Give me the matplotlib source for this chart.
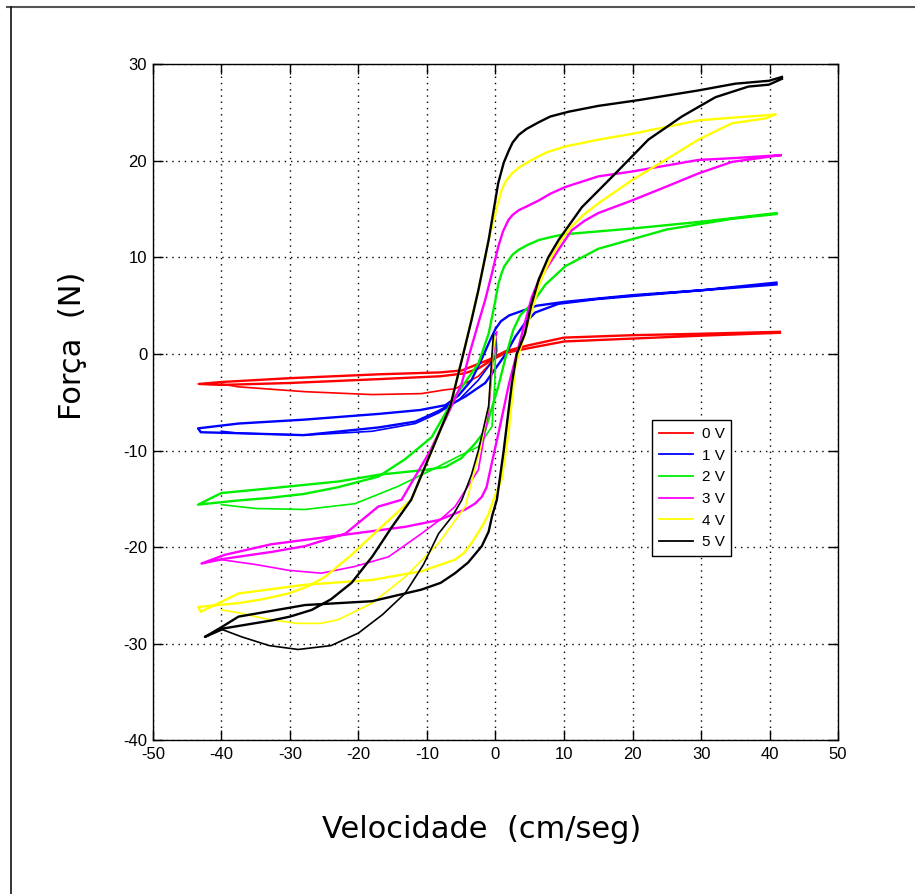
import matplotlib.pyplot as plt
from matplotlib.lines import Line2D

plt.rcParams['axes.unicode_minus'] = False

# curvas forca x velocidade, tensoes 0..5 V
labels = ['0 V', '1 V', '2 V', '3 V', '4 V', '5 V']
colors = ['#ff0000', '#0000ff', '#00ee00', '#ff00ff', '#ffff00', '#000000']

# laco principal (ida para a esquerda pelo ramo de cima, volta pelo de baixo)
x0 = [41.5, 30, 20, 10, 4.8, 1.5, -1, -4.9, -8, -17, -30, -40, -43.3,
      -40, -30, -17, -8, -4.5, -2.5, -0.5, 1.4, 4.8, 10, 20, 30, 41.5]
y0 = [2.3, 2.1, 1.95, 1.7, 0.9, 0.3, -0.6, -1.7, -1.9, -2.1, -2.5, -2.9, -3.1,
      -3.2, -3.0, -2.6, -2.3, -2.0, -1.5, -0.6, 0.1, 0.6, 1.3, 1.6, 1.9, 2.2]
x1 = [41, 30, 20, 10, 6, 4, 2, 0.8, 0, -0.8, -2, -3.5, -5.4, -7.3, -11, -17, -28, -37.5, -43.4,
      -43, -37.5, -28, -17, -11.7, -8.3, -4.4, -1.5, 0, 1.5, 2.9, 4.3, 5.8, 9.2, 15, 20, 30, 41]
y1 = [7.4, 6.6, 6.1, 5.4, 5.0, 4.5, 4.0, 3.4, 2.6, 1.4, -0.5, -2.7, -4.3, -5.3, -5.8, -6.2, -6.8, -7.2, -7.7,
      -8.1, -8.2, -8.4, -7.6, -7.0, -5.9, -4.4, -3.0, -1.5, 0, 1.8, 3.2, 4.3, 5.2, 5.7, 6.0, 6.6, 7.2]
x2 = [41, 30, 20, 10, 8, 6.3, 4.7, 3.4, 2.5, 1.9, 1.3, 0.9, 0.4, 0, -1, -2.5, -5.9, -9.3, -13.2, -17.1, -23, -28, -33, -38, -43.4,
      -40, -32.7, -22.9, -17, -10.2, -7.3, -5, -3, -1.5, 0.4, 1.6, 2.6, 3.6, 5.3, 7.3, 10.2, 15, 20, 25, 34.5, 41]
y2 = [14.6, 13.7, 13.0, 12.4, 12.1, 11.8, 11.3, 10.8, 10.3, 9.7, 9.1, 8.4, 7.2, 5.6, 2.1, -1.0, -4.4, -8.6, -10.9, -12.7, -13.8, -14.5, -14.9, -15.2, -15.6,
      -14.4, -13.9, -13.2, -12.5, -12.0, -11.7, -10.8, -9.3, -7.9, -3.4, 0, 2.5, 4.0, 5.2, 7.2, 9.1, 10.9, 11.9, 12.9, 14.0, 14.5]
x3 = [41.6, 35, 29.6, 19.9, 15, 10.2, 8, 6.3, 4.6, 3.4, 2.5, 1.9, 1.1, 0.4, -0.5, -1.5, -2.5, -3.8, -4.9, -6.8, -9.5, -13.7, -17.1, -21.9, -27.8, -32.7, -39.5, -42.9,
      -39.5, -32.7, -22.9, -13.2, -8.3, -4.4, -3, -2, -1.3, -0.6, 0.5, 2, 3.1, 4.2, 5.3, 6.2, 7.3, 9.2, 11.1, 13, 15, 19.9, 24.8, 29.6, 34.5, 41.6]
y3 = [20.6, 20.3, 20.1, 18.9, 18.4, 17.3, 16.6, 15.9, 15.3, 14.9, 14.4, 13.9, 12.7, 11.1, 8.4, 5.6, 3.2, 0, -3.0, -6.0, -10.0, -15.1, -15.8, -18.6, -19.9, -20.5, -21.2, -21.7,
      -20.8, -19.7, -18.8, -17.9, -17.2, -16.1, -15.5, -14.8, -13.8, -11.5, -8.0, -3.0, 0, 3.0, 5.9, 7.4, 8.7, 10.8, 12.8, 13.8, 14.6, 15.9, 17.3, 18.7, 19.9, 20.6]
x4 = [40.8, 35, 29.6, 24.8, 19.9, 15, 10.2, 7.5, 5.3, 3.6, 2.4, 1.5, 0.9, 0.2, -1, -2.5, -3.7, -4.7, -6.6, -9.3, -12.3, -17.1, -21, -24.9, -27.5, -30.2, -34, -37.5, -43.4,
      -43, -37.5, -27.8, -18, -10.8, -5.9, -4.6, -3.5, -2, -1, -0.3, 0.9, 1.9, 2.9, 3.6, 4.3, 5.3, 6.3, 7.2, 8.2, 9.6, 11.1, 13, 15, 19.9, 24.8, 29.6, 34.5, 39.4, 40.8]
y4 = [24.8, 24.5, 24.2, 23.5, 22.8, 22.2, 21.5, 20.9, 20.1, 19.4, 18.7, 17.9, 17.0, 15.2, 11.8, 6.6, 3.0, 0, -5.4, -10.0, -15.1, -18.2, -20.8, -23.1, -24.1, -24.8, -25.4, -25.8, -26.2,
      -26.7, -24.8, -23.9, -23.4, -22.5, -21.3, -20.6, -19.6, -17.9, -16.6, -15.1, -13.0, -8.2, -1.3, 0.5, 2.1, 4.5, 7.0, 8.6, 10.1, 11.8, 13.2, 14.5, 15.6, 18.0, 20.1, 22.2, 23.9, 24.4, 24.8]
x5 = [41.8, 39.9, 35, 29.6, 20.9, 15, 10.7, 8, 6.3, 4.5, 3.4, 2.5, 1.9, 1.2, 0.4, -1, -2.5, -3.5, -4.7, -6.6, -9.3, -12.3, -15.1, -18, -21, -24, -26.8, -30, -32.7, -39.5, -42.4,
      -40, -37.5, -27.8, -18, -10.8, -8, -5.9, -4, -2, -1, -0.5, 0.2, 1.2, 2.4, 3.1, 4.3, 5.2, 6.3, 7.7, 9.2, 12.6, 17.5, 22.3, 27.2, 32.1, 36.9, 39.9, 41.8]
y5 = [28.7, 28.3, 28.0, 27.3, 26.3, 25.7, 25.1, 24.6, 24.0, 23.3, 22.7, 21.9, 21.0, 19.8, 17.7, 11.8, 6.6, 3.5, 0, -5.4, -10.0, -15.1, -17.9, -21.0, -23.7, -25.4, -26.5, -27.2, -27.6, -28.4, -29.3,
      -28.3, -27.2, -26.0, -25.6, -24.4, -23.7, -22.7, -21.6, -19.9, -18.4, -16.8, -15.1, -10.0, -3.0, 0, 2.1, 5.0, 7.7, 10.0, 11.8, 15.2, 18.7, 22.2, 24.6, 26.6, 27.7, 27.9, 28.5]

# laco transitorio (por baixo, terminando no pico perto da origem)
lx0 = [-40, -37.5, -27.8, -18, -10.8, -7.3, -5.9, -2.5, -0.5, 0, 0.2, 0.1]
ly0 = [-3.1, -3.4, -3.9, -4.2, -4.1, -3.7, -3.6, -2.3, -0.8, -0.3, 0.4, 1.5]
lx1 = [-40, -37.5, -27.8, -18, -11.7, -8.3, -5.4, -2.5, 0, 0.1, 0]
ly1 = [-8.0, -8.2, -8.4, -8.0, -7.2, -6.1, -4.8, -2.7, -0.3, 1.0, 2.0]
lx2 = [-40, -35, -27.8, -20.5, -14.2, -9.3, -5.4, -2.5, -0.5, -0.1, 0, 0]
ly2 = [-15.6, -16.0, -16.1, -15.5, -13.7, -12.0, -10.6, -9.6, -7.5, -3.0, 0.4, 2.0]
lx3 = [-40, -35, -30.2, -25.4, -20.5, -15.6, -10.8, -7.8, -5.9, -2.5, -1, -0.3, 0.2]
ly3 = [-21.3, -21.8, -22.4, -22.7, -22.0, -21.0, -18.6, -17.0, -15.8, -12.0, -6.0, 0, 2.3]
lx4 = [-40, -37.5, -33, -28.8, -25.5, -22.9, -18, -13.2, -8.3, -4.4, -2.3, -1, -0.4, 0]
ly4 = [-26.5, -26.8, -27.5, -27.9, -27.9, -27.5, -25.8, -23.1, -19.6, -15.8, -10.0, -5.4, 0, 1.8]
lx5 = [-40, -37, -33, -28.8, -24, -20, -16.5, -13.2, -10.5, -8.3, -6.3, -4.9, -3.5, -2.5, -1, -0.5, -0.3]
ly5 = [-28.5, -29.3, -30.2, -30.6, -30.2, -28.9, -27.0, -24.8, -21.8, -18.6, -16.8, -15.1, -12.5, -10.0, -5.4, 0, 2.0]

loops = [(x0, y0, lx0, ly0), (x1, y1, lx1, ly1), (x2, y2, lx2, ly2),
         (x3, y3, lx3, ly3), (x4, y4, lx4, ly4), (x5, y5, lx5, ly5)]

narrow = ['Liberation Sans Narrow', 'Liberation Sans', 'DejaVu Sans']

fig = plt.figure(figsize=(9.15, 8.94), dpi=100)
ax = fig.add_axes([0.167, 0.172, 0.749, 0.756])

for (x, y, lx, ly), c, lab in zip(loops, colors, labels):
    ax.plot(x, y, color=c, lw=1.7, label=lab)
    ax.plot(lx, ly, color=c, lw=1.2)

ax.set_xlim(-50, 50)
ax.set_ylim(-40, 30)
ax.set_xticks(range(-50, 51, 10))
ax.set_yticks(range(-40, 31, 10))
ax.grid(True, color='black', linestyle=(0, (1, 3.5)), linewidth=1.0)
ax.tick_params(direction='in', length=7, width=1, top=True, right=True,
               labelsize=12)
ax.tick_params(axis='x', pad=5)
ax.tick_params(axis='y', pad=4)
for t in ax.get_xticklabels() + ax.get_yticklabels():
    t.set_family(narrow)
for s in ax.spines.values():
    s.set_linewidth(1.0)

ax.set_xlabel('Velocidade  (cm/seg)', fontsize=22, family='DejaVu Sans')
ax.xaxis.set_label_coords(0.480, -0.110)
ax.set_ylabel('Força  (N)', fontsize=22, family='DejaVu Sans')
ax.yaxis.set_label_coords(-0.096, 0.583)

leg = ax.legend(loc='upper left', bbox_to_anchor=(0.7285, 0.4734), borderaxespad=0,
                frameon=True, fancybox=False, edgecolor='black', framealpha=1,
                prop={'family': narrow, 'size': 11}, handlelength=2.2,
                labelspacing=0.5, borderpad=0.45, handletextpad=0.6)
leg.get_frame().set_linewidth(1.0)
for h in leg.get_lines():
    h.set_linewidth(1.3)

# moldura da imagem original
fig.add_artist(Line2D([0.008, 1.0], [0.992, 0.992], color='#555555', lw=1.5))
fig.add_artist(Line2D([0.012, 0.012], [0.0, 0.992], color='#111111', lw=1.2))

fig.savefig('out.png', dpi=100)
